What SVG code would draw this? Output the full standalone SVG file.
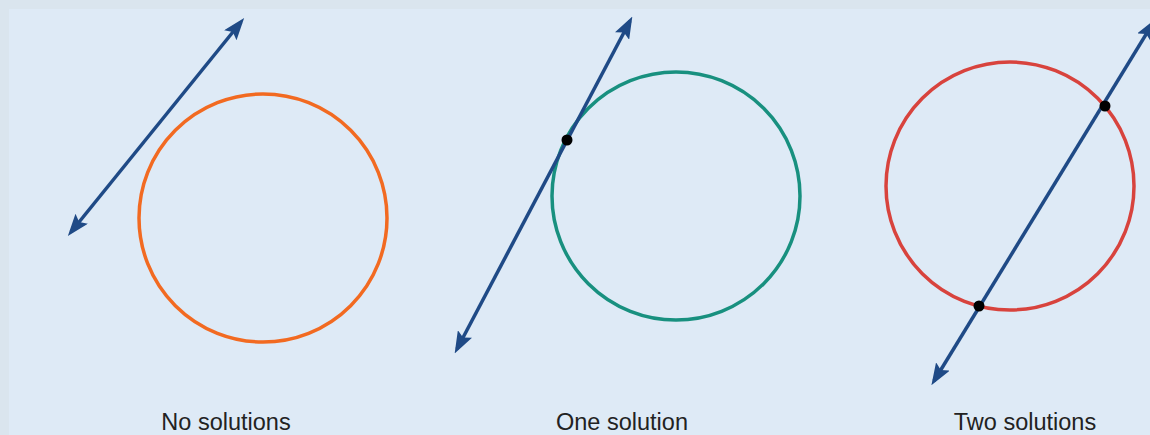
<svg xmlns="http://www.w3.org/2000/svg" width="1150" height="435" viewBox="0 0 1150 435">
<style>
.line{stroke:#1f4a86;stroke-width:3.5;fill:none;marker-start:url(#ah);marker-end:url(#ah)}
.circ{fill:none;stroke-width:3.5}
.pt{fill:#000}
.lbl{font-family:"Liberation Sans",Arial,sans-serif;font-size:23.5px;fill:#222;text-anchor:middle}
</style>
<defs>
<marker id="ah" viewBox="0 0 22 16" refX="17" refY="8" markerWidth="22" markerHeight="16" markerUnits="userSpaceOnUse" orient="auto-start-reverse">
<path d="M0,0 L22,8 L0,16 L4,8 Z" fill="#1f4a86"/>
</marker>
</defs>
<rect x="0" y="0" width="1150" height="435" fill="#dae5ee"/>
<rect x="9" y="9" width="1141" height="426" fill="#deeaf6"/>
<g id="panel1">
<circle class="circ" cx="263" cy="218" r="124" stroke="#f26a21"/>
</g>
<g id="panel2">
<circle class="circ" cx="676" cy="196" r="124" stroke="#18907f"/>
</g>
<g id="panel3">
<circle class="circ" cx="1010" cy="186" r="124" stroke="#d8433d"/>
</g>
<g id="connectors">
<line class="line" x1="71" y1="232" x2="241" y2="22"/>
<line class="line" x1="457" y1="349" x2="630" y2="21"/>
<line class="line" x1="934" y1="381" x2="1153" y2="23"/>
</g>
<g id="points">
<circle class="pt" cx="567" cy="140" r="5.5"/>
<circle class="pt" cx="1105" cy="106" r="5.5"/>
<circle class="pt" cx="979" cy="306" r="5.5"/>
</g>
<g id="labels">
<text class="lbl" x="226" y="430">No solutions</text>
<text class="lbl" x="622" y="430">One solution</text>
<text class="lbl" x="1025" y="430">Two solutions</text>
</g>
</svg>
